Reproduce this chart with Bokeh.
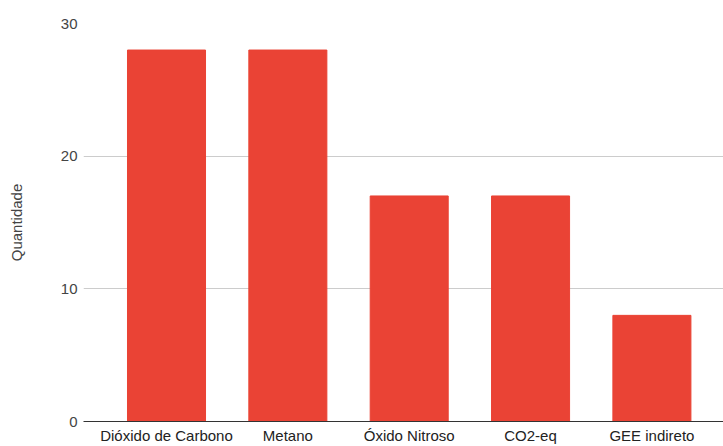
from bokeh.plotting import figure
from bokeh.models import Range1d, FixedTicker
from bokeh.embed import file_html
from bokeh.resources import INLINE

categories = ["Dióxido de Carbono", "Metano", "Óxido Nitroso", "CO2-eq", "GEE indireto"]
quantidade = [28, 28, 17, 17, 8]
y_ticks = [0, 10, 20, 30]

xs = list(range(len(categories)))

p = figure(width=723, height=446, output_backend="svg", toolbar_location=None,
           x_range=Range1d(-0.684, 4.59), y_range=Range1d(0, 30),
           min_border_left=83, min_border_right=0, min_border_top=23, min_border_bottom=10)
p.outline_line_color = None
p.background_fill_color = "white"
p.border_fill_color = "white"

p.vbar(x=xs, top=quantidade, width=0.643, color="#EA4335")

font = "Liberation Sans"

# x axis: category names under a dark baseline
p.xaxis.ticker = FixedTicker(ticks=xs)
p.xaxis.major_label_overrides = {i: c for i, c in enumerate(categories)}
p.xaxis.major_tick_line_color = None
p.xaxis.major_tick_out = 0
p.xaxis.major_tick_in = 0
p.xaxis.minor_tick_line_color = None
p.xaxis.axis_line_color = "#333333"
p.xaxis.major_label_text_font = font
p.xaxis.major_label_text_font_size = "15px"
p.xaxis.major_label_text_color = "#222222"
p.xaxis.major_label_standoff = 5
p.xgrid.grid_line_color = None

# y axis: labels only, light horizontal grid
p.yaxis.ticker = FixedTicker(ticks=y_ticks)
p.yaxis.axis_line_color = None
p.yaxis.major_tick_line_color = None
p.yaxis.major_tick_out = 0
p.yaxis.major_tick_in = 0
p.yaxis.minor_tick_line_color = None
p.yaxis.major_label_text_font = font
p.yaxis.major_label_text_font_size = "15px"
p.yaxis.major_label_text_color = "#444444"
p.yaxis.major_label_standoff = 6
p.yaxis.axis_label = "Quantidade"
p.yaxis.axis_label_text_font = font
p.yaxis.axis_label_text_font_size = "15px"
p.yaxis.axis_label_text_font_style = "normal"
p.yaxis.axis_label_text_color = "#444444"
p.yaxis.axis_label_standoff = 33
p.ygrid.ticker = FixedTicker(ticks=[10, 20, 30])
p.ygrid.grid_line_color = "#cccccc"

open("out.html", "w").write(file_html(p, INLINE))
